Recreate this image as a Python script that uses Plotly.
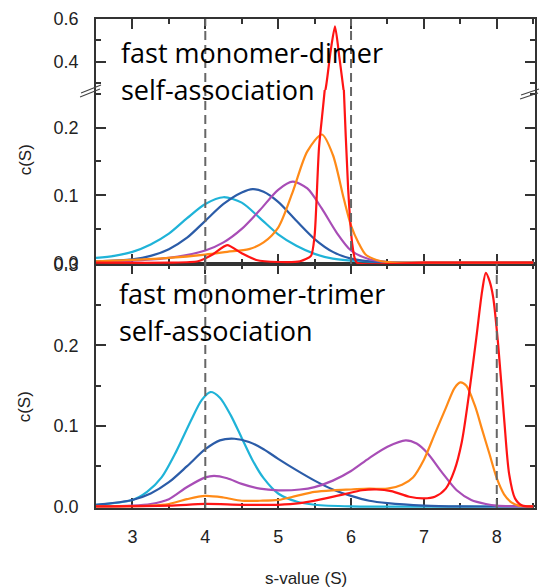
import plotly.graph_objects as go

# ---------------- data ----------------
# top panel: fast monomer-dimer self-association
DIM_CYAN_S = [2.5, 2.75, 3.0, 3.25, 3.5, 3.75, 4.0, 4.25, 4.5, 4.75, 5.0, 5.25, 5.5, 5.75, 6.0, 6.5, 7.0, 8.5]
DIM_CYAN_C = [0.007, 0.010, 0.016, 0.027, 0.043, 0.066, 0.087, 0.097, 0.089, 0.066, 0.042, 0.025, 0.013, 0.006, 0.003, 0.001, 0.0, 0.0]

DIM_BLUE_S = [2.5, 3.0, 3.25, 3.5, 3.75, 4.0, 4.25, 4.5, 4.65, 4.8, 5.0, 5.25, 5.5, 5.75, 6.0, 6.25, 6.5, 8.5]
DIM_BLUE_C = [0.002, 0.005, 0.010, 0.020, 0.037, 0.062, 0.087, 0.104, 0.109, 0.105, 0.090, 0.062, 0.035, 0.016, 0.006, 0.002, 0.0, 0.0]

DIM_PURPLE_S = [2.5, 3.0, 3.5, 4.0, 4.25, 4.5, 4.75, 5.0, 5.2, 5.4, 5.6, 5.8, 6.0, 6.25, 6.5, 7.0, 8.5]
DIM_PURPLE_C = [0.001, 0.003, 0.007, 0.018, 0.030, 0.050, 0.078, 0.108, 0.120, 0.110, 0.080, 0.045, 0.018, 0.005, 0.001, 0.0, 0.0]

DIM_ORANGE_S = [2.5, 3.0, 3.5, 4.0, 4.3, 4.6, 4.8, 5.0, 5.2, 5.4, 5.6, 5.75, 5.9, 6.0, 6.1, 6.2, 6.35, 6.5, 7.0, 8.5]
DIM_ORANGE_C = [0.002, 0.004, 0.007, 0.012, 0.016, 0.020, 0.030, 0.052, 0.105, 0.165, 0.190, 0.160, 0.095, 0.055, 0.030, 0.012, 0.004, 0.001, 0.0, 0.0]

DIM_RED_S = [2.5, 3.5, 3.9, 4.1, 4.3, 4.5, 4.7, 5.0, 5.3, 5.45, 5.5, 5.56, 5.65, 5.72, 5.78, 5.84, 5.9, 5.96, 6.02, 6.08, 7.0, 8.5]
DIM_RED_C = [0.0, 0.0, 0.002, 0.012, 0.026, 0.014, 0.004, 0.001, 0.002, 0.010, 0.040, 0.170, 0.270, 0.450, 0.565, 0.420, 0.260, 0.110, 0.025, 0.0, 0.0, 0.0]

# bottom panel: fast monomer-trimer self-association
TRI_CYAN_S = [2.5, 3.0, 3.2, 3.4, 3.6, 3.8, 3.95, 4.07, 4.2, 4.35, 4.5, 4.65, 4.8, 5.0, 5.25, 5.5, 6.0, 8.5]
TRI_CYAN_C = [0.002, 0.008, 0.018, 0.036, 0.068, 0.106, 0.132, 0.142, 0.135, 0.113, 0.085, 0.057, 0.035, 0.016, 0.006, 0.002, 0.0, 0.0]

TRI_BLUE_S = [2.5, 3.0, 3.25, 3.5, 3.75, 4.0, 4.2, 4.4, 4.6, 4.8, 5.0, 5.25, 5.5, 5.75, 6.0, 6.25, 6.5, 7.0, 7.5, 8.5]
TRI_BLUE_C = [0.002, 0.008, 0.016, 0.030, 0.050, 0.071, 0.082, 0.084, 0.080, 0.071, 0.059, 0.045, 0.032, 0.021, 0.013, 0.007, 0.004, 0.001, 0.0, 0.0]

TRI_PURPLE_S = [2.5, 3.0, 3.25, 3.5, 3.75, 4.0, 4.12, 4.3, 4.5, 4.75, 5.0, 5.3, 5.5, 5.75, 6.0, 6.25, 6.5, 6.75, 6.9, 7.05, 7.25, 7.45, 7.65, 7.85, 8.0, 8.5]
TRI_PURPLE_C = [0.0, 0.001, 0.003, 0.009, 0.024, 0.036, 0.038, 0.035, 0.028, 0.022, 0.020, 0.021, 0.024, 0.032, 0.044, 0.060, 0.074, 0.082, 0.078, 0.066, 0.042, 0.020, 0.008, 0.003, 0.001, 0.0]

TRI_ORANGE_S = [2.5, 3.25, 3.5, 3.75, 4.0, 4.25, 4.5, 4.75, 5.0, 5.25, 5.5, 5.75, 6.0, 6.25, 6.5, 6.7, 6.85, 7.0, 7.15, 7.3, 7.42, 7.5, 7.58, 7.7, 7.8, 7.9, 8.0, 8.1, 8.2, 8.3, 8.5]
TRI_ORANGE_C = [0.0, 0.001, 0.003, 0.009, 0.013, 0.011, 0.007, 0.007, 0.008, 0.013, 0.018, 0.020, 0.021, 0.022, 0.022, 0.027, 0.036, 0.058, 0.090, 0.122, 0.147, 0.154, 0.150, 0.125, 0.095, 0.065, 0.035, 0.015, 0.005, 0.001, 0.0]

TRI_RED_S = [2.5, 3.5, 4.0, 4.5, 5.0, 5.3, 5.6, 5.9, 6.15, 6.35, 6.55, 6.8, 7.0, 7.15, 7.3, 7.42, 7.52, 7.62, 7.72, 7.8, 7.85, 7.9, 7.95, 8.02, 8.1, 8.17, 8.25, 8.35, 8.5]
TRI_RED_C = [0.0, 0.001, 0.003, 0.002, 0.002, 0.004, 0.009, 0.015, 0.020, 0.021, 0.019, 0.012, 0.010, 0.012, 0.022, 0.045, 0.080, 0.140, 0.210, 0.268, 0.290, 0.280, 0.260, 0.200, 0.110, 0.040, 0.010, 0.001, 0.0]

COLORS = {"cyan": "#1fb3d8", "blue": "#2b5ca8", "purple": "#a84db6", "orange": "#ff8a17", "red": "#ff1414"}

TOP_TEXT = ["fast monomer-dimer", "self-association"]
BOT_TEXT = ["fast monomer-trimer", "self-association"]
X_TICKS = [3, 4, 5, 6, 7, 8]
DIM_DASH_X = [4.0, 6.0]
TRI_DASH_X = [4.0, 8.0]

# ---------------- layout geometry ----------------
W, H = 541, 588
ML, MR, MT, MB = 96, 4, 19, 80
PW, PH = W - ML - MR, H - MT - MB


def px(xp, yp):
    return (xp - ML) / PW, (H - MB - yp) / PH


D1 = px(0, 264)[1]   # bottom panel / top panel boundary
D2 = px(0, 90)[1]    # axis break inside top panel

fig = go.Figure()

top = [("cyan", DIM_CYAN_S, DIM_CYAN_C), ("blue", DIM_BLUE_S, DIM_BLUE_C),
       ("purple", DIM_PURPLE_S, DIM_PURPLE_C), ("orange", DIM_ORANGE_S, DIM_ORANGE_C),
       ("red", DIM_RED_S, DIM_RED_C)]
bot = [("cyan", TRI_CYAN_S, TRI_CYAN_C), ("blue", TRI_BLUE_S, TRI_BLUE_C),
       ("purple", TRI_PURPLE_S, TRI_PURPLE_C), ("orange", TRI_ORANGE_S, TRI_ORANGE_C),
       ("red", TRI_RED_S, TRI_RED_C)]


def line(name, sm=0.8):
    return dict(color=COLORS[name], width=2.2, shape="spline", smoothing=sm)


for name, s, c in bot:
    fig.add_trace(go.Scatter(x=s, y=c, mode="lines", line=line(name), xaxis="x", yaxis="y", showlegend=False))
for name, s, c in top:
    sm = 0.6 if name == "red" else 0.8
    fig.add_trace(go.Scatter(x=s, y=c, mode="lines", line=line(name, sm), xaxis="x2", yaxis="y2", showlegend=False))
    if max(c) > 0.25:
        fig.add_trace(go.Scatter(x=s, y=c, mode="lines", line=line(name, sm), xaxis="x3", yaxis="y3", showlegend=False))

tickfont = dict(family="Liberation Sans, Arial, sans-serif", size=18, color="#222")
axcommon = dict(showline=True, linecolor="#333", linewidth=1.5, ticks="inside", tickcolor="#333",
                tickwidth=1.5, ticklen=10, showgrid=False, zeroline=False, tickfont=tickfont,
                layer="below traces")
minor_x = dict(dtick=0.5, tick0=2.5, ticks="inside", ticklen=5, tickcolor="#333", tickwidth=1.5)
minor_y = dict(dtick=0.05, ticks="inside", ticklen=5, tickcolor="#333", tickwidth=1.5)
xr = [2.5, 2.5 + PW / 73.2]

fig.update_layout(
    width=W, height=H, margin=dict(l=ML, r=MR, t=MT, b=MB),
    paper_bgcolor="white", plot_bgcolor="white",
    xaxis=dict(domain=[0, 1], anchor="y", range=xr, tickvals=X_TICKS, ticktext=[str(v) for v in X_TICKS],
               mirror="allticks", ticklabelstandoff=12, minor=minor_x, **axcommon),
    yaxis=dict(domain=[0, D1], anchor="x", range=[-0.002, 0.301], tickvals=[0, 0.1, 0.2, 0.3],
               ticktext=["0.0", "0.1", "0.2", "0.3"], mirror="allticks", ticklabelstandoff=12,
               minor=minor_y, **axcommon),
    xaxis2=dict(domain=[0, 1], anchor="y2", matches="x", range=xr, tickvals=X_TICKS, showticklabels=False,
                minor=minor_x, **axcommon),
    yaxis2=dict(domain=[D1, D2], anchor="x2", range=[-0.002, 0.256], tickvals=[0, 0.1, 0.2],
                ticktext=["0.0", "0.1", "0.2"], mirror="allticks", ticklabelstandoff=12,
                minor=minor_y, **axcommon),
    xaxis3=dict(domain=[0, 1], anchor="y3", matches="x", range=xr, side="top", tickvals=X_TICKS, showticklabels=False,
                minor=minor_x, **axcommon),
    yaxis3=dict(domain=[D2, 1], anchor="x3", range=[0.267, 0.6], tickvals=[0.4, 0.6],
                ticktext=["0.4", "0.6"], mirror="allticks", ticklabelstandoff=12,
                minor=dict(tickvals=[0.3, 0.5], ticks="inside", ticklen=5, tickcolor="#333", tickwidth=1.5), **axcommon),
)

shapes = []
for xv in DIM_DASH_X:
    shapes.append(dict(type="line", xref="x2", yref="paper", x0=xv, x1=xv, y0=D1, y1=1,
                       line=dict(color="#666", width=2, dash="9px,5px"), layer="above"))
for xv in TRI_DASH_X:
    shapes.append(dict(type="line", xref="x", yref="paper", x0=xv, x1=xv, y0=0, y1=D1,
                       line=dict(color="#666", width=2, dash="9px,5px"), layer="above"))
# axis-break marks
for (xa, ya, xb, yb) in [(80, 97, 100, 89), (81, 93, 101, 85), (522, 99, 540, 93), (523, 95, 541, 89)]:
    p0, p1 = px(xa, ya), px(xb, yb)
    shapes.append(dict(type="line", xref="paper", yref="paper", x0=p0[0], y0=p0[1], x1=p1[0], y1=p1[1],
                       line=dict(color="#444", width=1.2), layer="above"))
fig.update_layout(shapes=shapes)

annfont = dict(family="Open Sans, Noto Sans, sans-serif", size=27, color="#000")
anns = []
for txt, (xp, yp) in zip(TOP_TEXT + BOT_TEXT, [(119, 52), (119, 90), (117, 293), (117, 330)]):
    ax_, ay_ = px(xp, yp)
    anns.append(dict(text=txt, xref="paper", yref="paper", x=ax_, y=ay_, xanchor="left", yanchor="middle",
                     showarrow=False, font=annfont))
labfont = dict(family="Liberation Sans, Arial, sans-serif", size=17, color="#222")
for yp in [160, 407]:
    ax_, ay_ = px(25, yp)
    anns.append(dict(text="c(S)", xref="paper", yref="paper", x=ax_, y=ay_, xanchor="center", yanchor="middle",
                     textangle=-90, showarrow=False, font=labfont))
ax_, ay_ = px(307, 578)
anns.append(dict(text="s-value (S)", xref="paper", yref="paper", x=ax_, y=ay_, xanchor="center", yanchor="middle",
                 showarrow=False, font=labfont))
fig.update_layout(annotations=anns)

fig.write_html("out.html")
